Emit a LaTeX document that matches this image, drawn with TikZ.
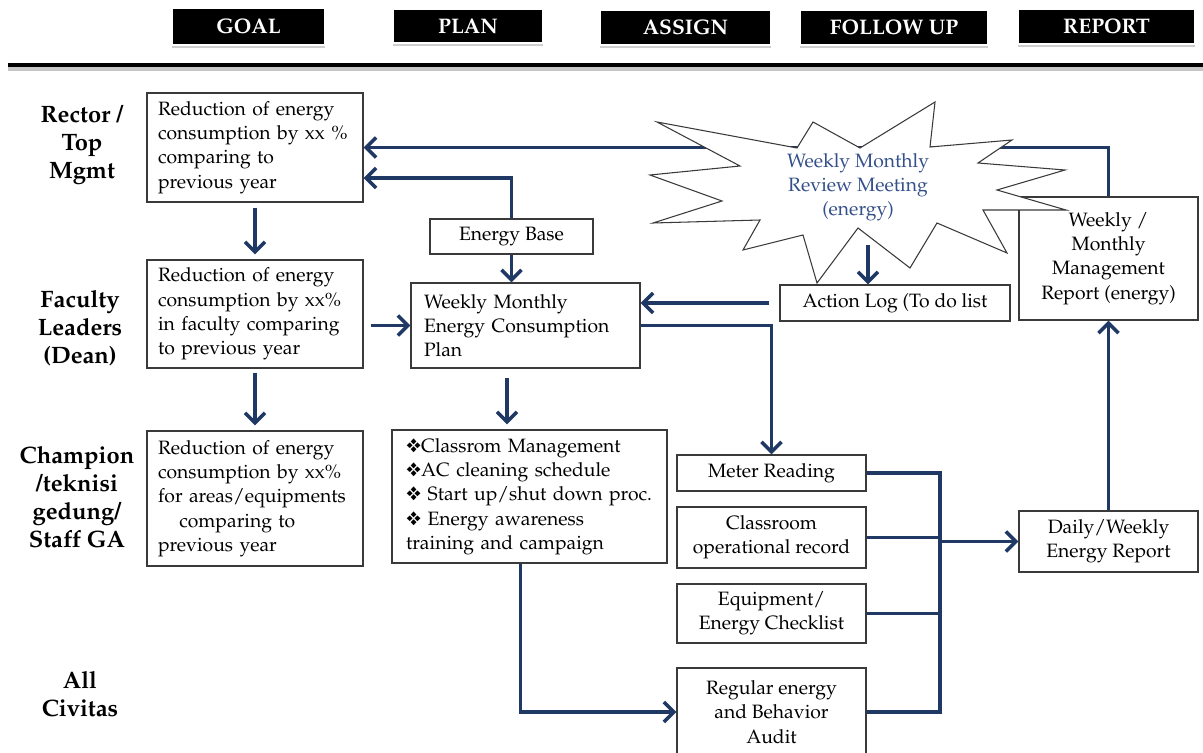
\documentclass[tikz,border=0pt]{standalone}
\usepackage[T1]{fontenc}
\usepackage{mathpazo}
\usepackage{pifont}
\usetikzlibrary{arrows.meta,shadows}
\definecolor{navy}{HTML}{1F3864}
\definecolor{burstblue}{HTML}{34508A}
\definecolor{edge}{HTML}{3A3A3A}
\tikzset{box/.style 2 args={draw=edge, line width=0.7pt, fill=white, minimum width=#1*0.02cm, minimum height=#2*0.02cm, inner sep=0pt, align=center, font=\fontsize{11}{13.8}\selectfont}, hdr/.style 2 args={fill=black, draw=white, line width=1.6pt, text=white, minimum width=#1*0.02cm, minimum height=#2*0.02cm, font=\bfseries\fontsize{12}{13}\selectfont, drop shadow={shadow xshift=0pt, shadow yshift=-0.07cm, fill=gray!55, opacity=.7}}, role/.style={align=center, font=\bfseries\fontsize{13.5}{15.9}\selectfont}, flow/.style={draw=navy, line width=2pt, -{Straight Barb[length=2mm, width=4mm, line width=2pt]}}, link/.style={draw=navy, line width=2pt}}
\newcommand{\itm}{\ding{118}}

\begin{document}
\begin{tikzpicture}[x=0.02cm, y=-0.02cm]
\useasboundingbox (0,0) rectangle (1203,753);
% stages along the top
\node[hdr={153}{37}] (goal) at (248.5,26.5) {GOAL};
\node[hdr={150}{34}] (plan) at (468,26) {PLAN};
\node[hdr={171}{35}] (assign) at (685.5,27.5) {ASSIGN};
\node[hdr={188}{35}] (follow) at (894,27.5) {FOLLOW UP};
\node[hdr={177}{35}] (report) at (1106.5,26.5) {REPORT};
\draw[gray!45, line width=2pt] (8,69) -- (1203,69);
\draw[black, line width=2.4pt] (8,65) -- (1203,65);
% who
\node[role] (rector) at (82,145) {Rector /\\Top\\Mgmt};
\node[role] (faculty) at (80,328) {Faculty\\Leaders\\(Dean)};
\node[role] (champ) at (77,497) {Champion\\/teknisi\\gedung/\\Staff GA};
\node[role] (civitas) at (80,694) {All\\Civitas};
% goals
\node[box={216}{109}, text width=3.88cm, align=left] (g1) at (255,147.5) {Reduction of energy\\consumption by xx \%\\comparing to\\previous year};
\node[box={216}{108}, text width=3.88cm, align=left] (g2) at (255,314) {Reduction of energy\\consumption by xx\%\\in faculty comparing\\to previous year};
\node[box={216}{135}, text width=3.88cm, align=left] (g3) at (255,498.5) {Reduction of energy\\consumption by xx\%\\for areas/equipments\\\hspace*{1.1em}comparing to\\previous year};
% plan
\node[box={163}{35}] (eb) at (511.5,236.5) {Energy Base};
\node[box={229}{85}, text width=4.06cm, align=left] (p1) at (525.5,325.5) {Weekly Monthly\\Energy Consumption\\Plan};
\node[box={275}{133}, text width=4.94cm, align=left] (p2) at (529.5,496.5) {\itm Classrom Management\\\itm AC cleaning schedule\\\itm{} Start up/shut down proc.\\\itm{} Energy awareness\\training and campaign};
% follow up
\node[box={189}{36}] (meter) at (771.5,473) {Meter Reading};
\node[box={189}{61}] (room) at (771.5,537.5) {Classroom\\operational record};
\node[box={189}{59}] (check) at (771.5,613.5) {Equipment/\\Energy Checklist};
\node[box={189}{88}] (audit) at (771.5,712) {Regular energy\\and Behavior\\Audit};
% report
\node[box={179}{123}] (mgmt) at (1108.5,258.5) {Weekly /\\Monthly\\Management\\Report (energy)};
\node[box={179}{61}] (daily) at (1108.5,541.5) {Daily/Weekly\\Energy Report};
\draw[flow] (mgmt.north) |- (g1.east);
\draw[flow] (eb.north) |- ([yshift=-0.61cm]g1.east);
% review meeting
\draw[draw=edge, line width=0.6pt, fill=white] (657,122) -- (797,148) -- (813,122) -- (860,148) -- (935,102) -- (930,147) -- (1012,140) -- (978,163) -- (1065,170) -- (997,190) -- (1066,210) -- (983,210) -- (1007,253) -- (937,223) -- (910,268) -- (858,228) -- (817,283) -- (803,235) -- (743,250) -- (760,220) -- (653,223) -- (722,201) -- (650,175) -- (740,166) -- cycle;
\node[align=center, text=burstblue, font=\fontsize{11}{13.8}\selectfont] (review) at (858,187) {Weekly Monthly\\Review Meeting\\(energy)};
\node[box={230}{36}] (alog) at (895,303) {Action Log (To do list};
\coordinate (burstout) at (868,245);
\coordinate (planout) at (507,378);
\coordinate (bus) at (940,473);
% connectors
\draw[flow] (burstout) -- (burstout |- alog.north);
\draw[flow, shorten <=0.1cm, shorten >=0.1cm] (g1.south) -- (g2.north);
\draw[flow, shorten <=0.08cm, shorten >=0.1cm] (g2.south) -- (g3.north);
\draw[flow] (eb.south) -- (eb.south |- p1.north);
\draw[flow, shorten <=0.14cm] (g2.east |- p1.west) -- (p1.west);
\draw[flow, shorten <=0.2cm] (alog.west) -- (alog.west -| p1.east);
\draw[flow] (p1.east) -| (meter.north);
\draw[flow, shorten >=0.1cm] (planout) -- (planout |- p2.north);
\draw[flow] ([xshift=-0.18cm]p2.south) |- (audit.west);
\draw[link] (meter.east) -- (bus) -- (bus |- audit.east) -- (audit.east);
\draw[link] (room.east) -- (room.east -| bus);
\draw[link] (check.east) -- (check.east -| bus);
\draw[flow] (bus |- daily.west) -- (daily.west);
\draw[flow] (daily.north) -- (mgmt.south);
\end{tikzpicture}
\end{document}
